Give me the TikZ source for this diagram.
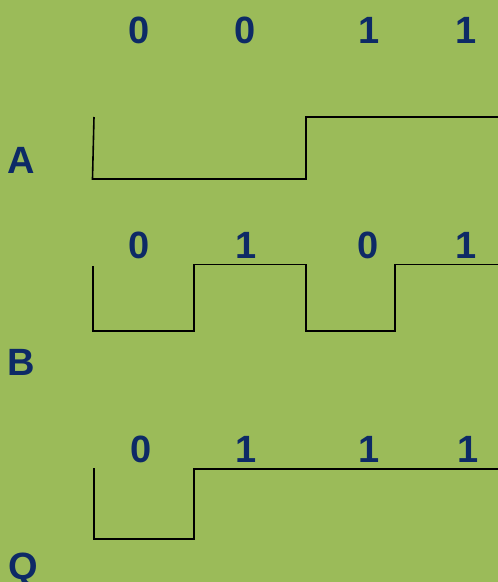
\documentclass[tikz,border=0pt]{standalone}
\usepackage{fontspec}
\setmainfont{Liberation Sans}
\definecolor{bg}{HTML}{9BBB59}
\definecolor{txt}{HTML}{0D2A66}
\begin{document}
\begin{tikzpicture}[x=1pt,y=-1pt,
  lbl/.style={anchor=base,text=txt,font=\fontsize{38}{40}\selectfont\bfseries,inner sep=0pt},
  wave/.style={draw=black,line width=1.6pt,line join=miter}]
\fill[bg] (0,0) rectangle (498,582);
\useasboundingbox (0,0) rectangle (498,582);
% top labels
\node[lbl] (t1) at (139,43) {0};
\node[lbl] (t2) at (245,43) {0};
\node[lbl] (t3) at (369,43) {1};
\node[lbl] (t4) at (466,43) {1};
% A
\node[lbl] (la) at (21,173) {A};
\draw[wave] (94,117) -- (92.5,179) -- (306,179) -- (306,117) -- (498,117);
% B
\node[lbl] (b1) at (139,258) {0};
\node[lbl] (b2) at (246,258) {1};
\node[lbl] (b3) at (368,258) {0};
\node[lbl] (b4) at (466,258) {1};
\node[lbl] (lb) at (21,375) {B};
\draw[wave] (93,266) -- (93,331) -- (194,331) -- (194,264.5) -- (306,264.5) -- (306,331) -- (395,331) -- (395,264.5) -- (498,264.5);
% Q
\node[lbl] (q1) at (141,462) {0};
\node[lbl] (q2) at (246,462) {1};
\node[lbl] (q3) at (369,462) {1};
\node[lbl] (q4) at (468,462) {1};
\node[lbl] (lq) at (23,579) {Q};
\draw[wave] (94,468) -- (94,539) -- (194,539) -- (194,469) -- (498,469);
\end{tikzpicture}
\end{document}
